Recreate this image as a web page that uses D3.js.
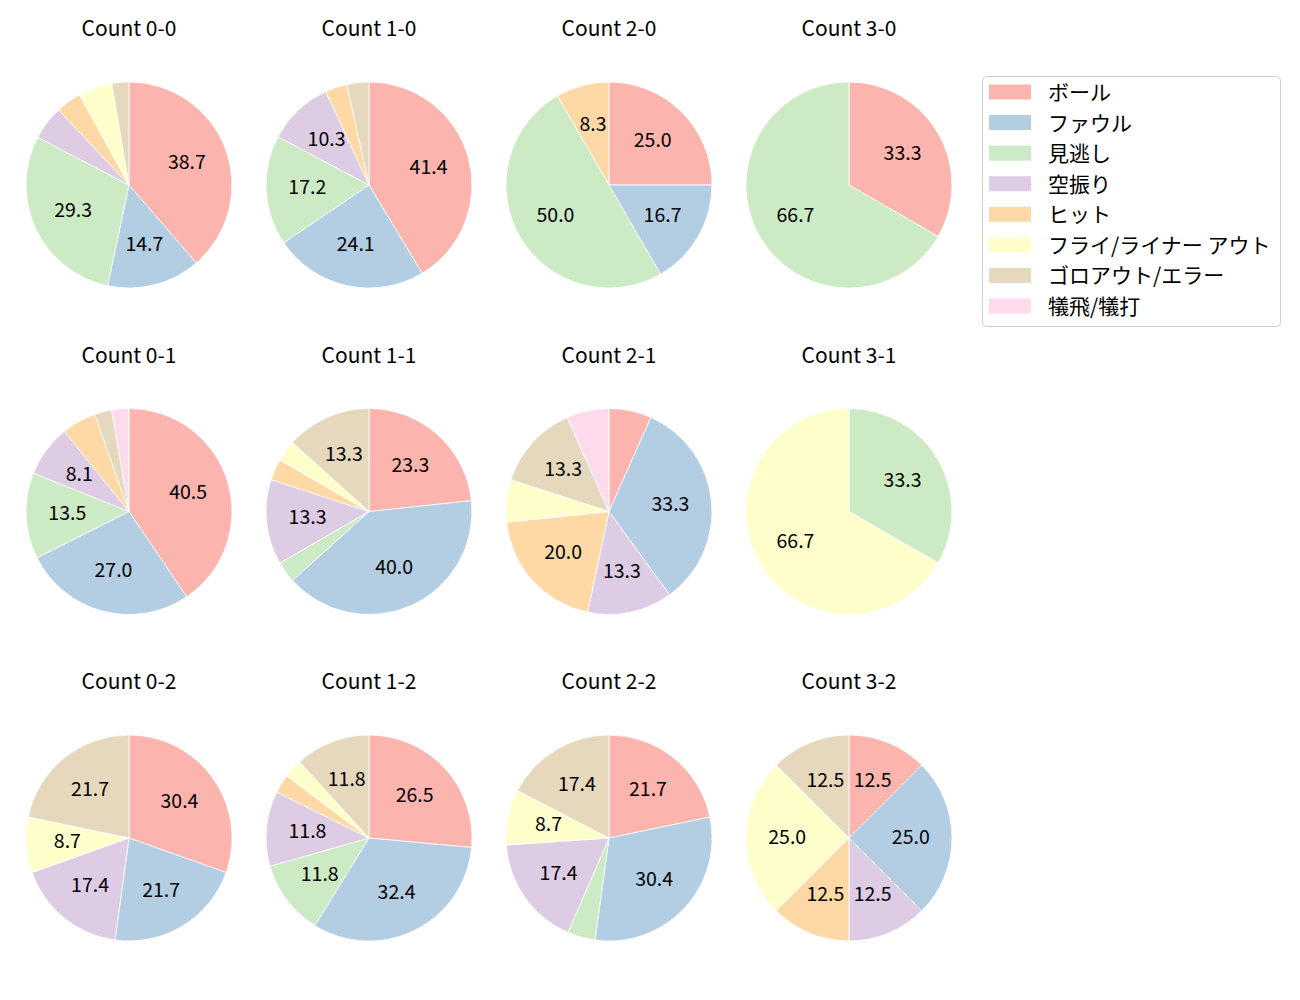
<!DOCTYPE html>
<html><head><meta charset="utf-8">
<script src="https://cdn.jsdelivr.net/npm/d3@7"></script>
<style>body{margin:0;background:#fff;} svg{display:block;}</style>
</head><body>
<svg id="c" width="1300" height="1000"></svg>
<script>
const categories = ["ボール","ファウル","見逃し","空振り","ヒット","フライ/ライナー アウト","ゴロアウト/エラー","犠飛/犠打"];
const colors = ["#fbb4ae","#b3cde3","#ccebc5","#decbe4","#fed9a6","#ffffcc","#e5d8bd","#fddaec"];
const titles = ["Count 0-0","Count 1-0","Count 2-0","Count 3-0",
                "Count 0-1","Count 1-1","Count 2-1","Count 3-1",
                "Count 0-2","Count 1-2","Count 2-2","Count 3-2"];
// counts per category, in category order
const count00 = [29,11,22,4,3,4,2,0];
const count10 = [12,7,5,3,1,0,1,0];
const count20 = [3,2,6,0,1,0,0,0];
const count30 = [1,0,2,0,0,0,0,0];
const count01 = [15,10,5,3,2,0,1,1];
const count11 = [7,12,1,4,1,1,4,0];
const count21 = [1,5,0,2,3,1,2,1];
const count31 = [0,0,1,0,0,2,0,0];
const count02 = [7,5,0,4,0,2,5,0];
const count12 = [9,11,4,4,1,1,4,0];
const count22 = [5,7,1,4,0,2,4,0];
const count32 = [1,2,0,1,1,2,1,0];
const series = [count00,count10,count20,count30,count01,count11,count21,count31,count02,count12,count22,count32];

const svg = d3.select("#c");
const font = "'Noto Sans CJK JP','Noto Sans',sans-serif";
const colX = d3.scalePoint().domain([0,1,2,3]).range([129,849]);
const rowY = d3.scalePoint().domain([0,1,2]).range([185,838]);
const R = 103;
const color = d3.scaleOrdinal().domain(categories).range(colors);
const pie = d3.pie().sort(null).value(d=>d.v);
const arc = d3.arc().innerRadius(0).outerRadius(R);

series.forEach((vals,i)=>{
  const cx = colX(i%4), cy = rowY(Math.floor(i/4));
  const total = d3.sum(vals);
  const data = vals.map((v,k)=>({v, k, cat:categories[k]})).filter(d=>d.v>0);
  const g = svg.append("g").attr("transform",`translate(${cx},${cy})`);
  const arcs = pie(data);
  g.selectAll("path").data(arcs).join("path")
    .attr("d",arc).attr("fill",d=>color(d.data.cat))
    .attr("stroke","#fff").attr("stroke-width",0.8).attr("stroke-linejoin","round");
  g.selectAll("text.lbl").data(arcs.filter(d=>d.data.v/total*100>7)).join("text")
    .attr("class","lbl")
    .attr("x",d=>Math.sin((d.startAngle+d.endAngle)/2)*R*0.6)
    .attr("y",d=>-Math.cos((d.startAngle+d.endAngle)/2)*R*0.6-2.5)
    .attr("text-anchor","middle").attr("dominant-baseline","central")
    .attr("font-family",font).attr("font-size",19.5).attr("fill","#000")
    .text(d=>(d.data.v/total*100).toFixed(1));
  svg.append("text").attr("x",cx).attr("y",cy-158)
    .attr("text-anchor","middle").attr("dominant-baseline","central")
    .attr("font-family",font).attr("font-size",21).attr("fill","#000")
    .text(titles[i]);
});

// legend
const lg = svg.append("g");
lg.append("rect").attr("x",982.5).attr("y",76.5).attr("width",298).attr("height",250)
  .attr("rx",4).attr("fill","#fff").attr("stroke","#d0d0d0").attr("stroke-width",1);
const ly = d3.scaleLinear().domain([0,7]).range([92,306]);
categories.forEach((c,k)=>{
  lg.append("rect").attr("x",989).attr("y",ly(k)-7.5).attr("width",42).attr("height",15).attr("fill",colors[k]);
  lg.append("text").attr("x",1048).attr("y",ly(k)-1).attr("dominant-baseline","central")
    .attr("font-family",font).attr("font-size",21).attr("fill","#000").text(c);
});
</script>
</body></html>
